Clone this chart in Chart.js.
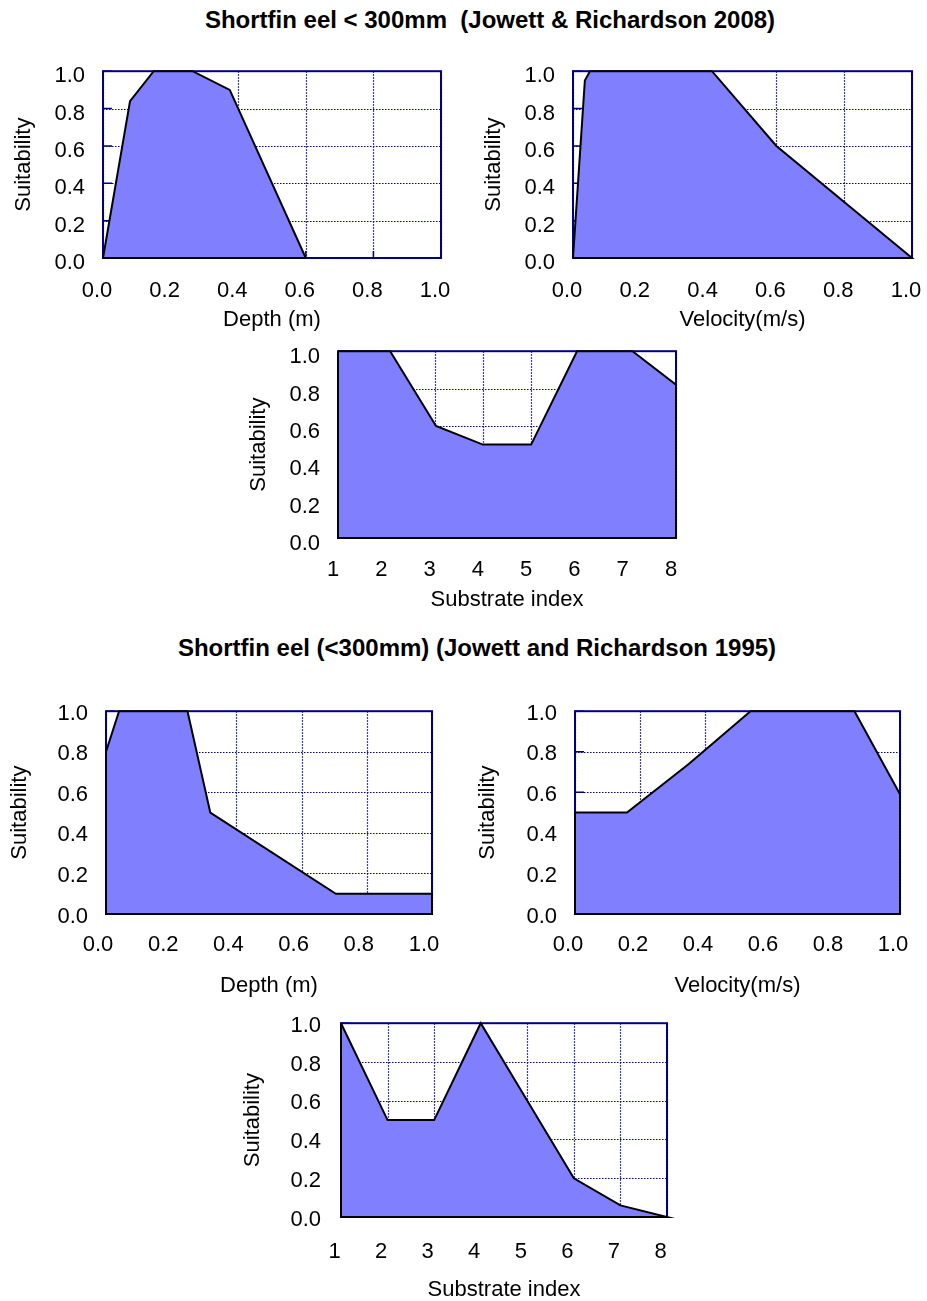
<!DOCTYPE html>
<html>
<head>
<meta charset="utf-8">
<script src="https://cdn.jsdelivr.net/npm/chart.js@4.4.1/dist/chart.umd.min.js"></script>
<style>
  html, body { margin: 0; padding: 0; background: #fff; width: 927px; height: 1301px; overflow: hidden; position: relative; }
  .panel { position: absolute; }
  .title { position: absolute; font: bold 24px "Liberation Sans", Arial, sans-serif; line-height: 24px;
           white-space: pre; text-align: center; color: #000; }
</style>
</head>
<body>
<div class="title" style="left:0; top:8px; width:980px;">Shortfin eel &lt; 300mm  (Jowett &amp; Richardson 2008)</div>
<div class="title" style="left:0; top:636px; width:954px;">Shortfin eel (&lt;300mm) (Jowett and Richardson 1995)</div>

<canvas id="p1" class="panel"></canvas>
<canvas id="p2" class="panel"></canvas>
<canvas id="p3" class="panel"></canvas>
<canvas id="p4" class="panel"></canvas>
<canvas id="p5" class="panel"></canvas>
<canvas id="p6" class="panel"></canvas>

<script>
// Tick labels
const suitabilityTicks = ['0.0', '0.2', '0.4', '0.6', '0.8', '1.0'];
const unitTicks = ['0.0', '0.2', '0.4', '0.6', '0.8', '1.0'];
const substrateTicks = ['1', '2', '3', '4', '5', '6', '7', '8'];

// Habitat suitability curves, Jowett & Richardson 2008
const depth2008X = [0, 0.08, 0.15, 0.265, 0.375, 0.6];
const depth2008Y = [0, 0.84, 1, 1, 0.9, 0];
const velocity2008X = [0, 0.035, 0.05, 0.41, 0.6, 1.0];
const velocity2008Y = [0, 0.95, 1, 1, 0.6, 0];
const substrate2008X = [1, 2.08, 3.03, 4, 5, 5.95, 7.1, 8];
const substrate2008Y = [1, 1, 0.6, 0.5, 0.5, 1, 1, 0.82];

// Habitat suitability curves, Jowett & Richardson 1995
const depth1995X = [0, 0.04, 0.25, 0.32, 0.705, 1.0];
const depth1995Y = [0.8, 1, 1, 0.5, 0.1, 0.1];
const velocity1995X = [0, 0.16, 0.35, 0.54, 0.86, 1.0];
const velocity1995Y = [0.5, 0.5, 0.74, 1, 1, 0.59];
const substrate1995X = [1, 2, 3, 4, 5, 6, 7, 8];
const substrate1995Y = [1, 0.5, 0.5, 1, 0.6, 0.2, 0.06, 0];

const NAVY = '#000080';
const FILL = '#8080FF';
const FONT_FAMILY = '"Liberation Sans", Arial, sans-serif';
const TICK_FONT = { family: FONT_FAMILY, size: 22 };
const TITLE_FONT = { family: FONT_FAMILY, size: 22 };
const HALF_LINE = 22 * 1.2 / 2;

// Dotted grid, plot frame and short inward tick marks, all drawn under the filled area
const framePlugin = {
  id: 'frame',
  beforeDatasetsDraw(chart) {
    const { ctx, chartArea: a, scales: { x, y } } = chart;
    ctx.save();
    ctx.strokeStyle = NAVY;
    ctx.lineWidth = 1.2;
    ctx.setLineDash([1.5, 1.5]);
    ctx.beginPath();
    y.ticks.forEach(t => {
      const py = Math.round(y.getPixelForValue(t.value)) + 0.5;
      ctx.moveTo(a.left, py); ctx.lineTo(a.right, py);
    });
    x.ticks.forEach(t => {
      const px = Math.round(x.getPixelForValue(t.value)) + 0.5;
      ctx.moveTo(px, a.top); ctx.lineTo(px, a.bottom);
    });
    ctx.stroke();
    ctx.setLineDash([]);
    ctx.lineWidth = 2;
    ctx.strokeRect(a.left, a.top, a.right - a.left, a.bottom - a.top);
    ctx.lineWidth = 1.5;
    ctx.beginPath();
    y.ticks.forEach(t => {
      const py = y.getPixelForValue(t.value);
      ctx.moveTo(a.left, py); ctx.lineTo(a.left + 9, py);
    });
    x.ticks.forEach(t => {
      const px = x.getPixelForValue(t.value);
      ctx.moveTo(px, a.bottom); ctx.lineTo(px, a.bottom - 7);
    });
    ctx.stroke();
    ctx.restore();
  }
};

const panels = [
  { id: 'p1', box: [0, 40, 500, 300], area: [103, 66, 441, 258], xs: depth2008X, ys: depth2008Y,
    xTitle: 'Depth (m)', range: [0, 1, 0.2], xLabels: unitTicks, xOff: -6, yOff: 5, xPad: 20, yPad: 18, yTitleX: 24, xTitleY: 320 },
  { id: 'p2', box: [470, 40, 500, 300], area: [573, 66, 912, 258], xs: velocity2008X, ys: velocity2008Y,
    xTitle: 'Velocity(m/s)', range: [0, 1, 0.2], xLabels: unitTicks, xOff: -6, yOff: 5, xPad: 20, yPad: 18, yTitleX: 494, xTitleY: 320 },
  { id: 'p3', box: [230, 320, 500, 300], area: [338, 342, 676, 538], xs: substrate2008X, ys: substrate2008Y,
    xTitle: 'Substrate index', range: [1, 8, 1], xLabels: substrateTicks, xOff: -5, yOff: 6, xPad: 19, yPad: 18, yTitleX: 259, xTitleY: 600 },
  { id: 'p4', box: [0, 680, 490, 326], area: [106, 710, 432, 914], xs: depth1995X, ys: depth1995Y,
    xTitle: 'Depth (m)', range: [0, 1, 0.2], xLabels: unitTicks, xOff: -8, yOff: 2.5, xPad: 18, yPad: 18, yTitleX: 20, xTitleY: 986 },
  { id: 'p5', box: [470, 680, 490, 326], area: [575, 710, 900, 914], xs: velocity1995X, ys: velocity1995Y,
    xTitle: 'Velocity(m/s)', range: [0, 1, 0.2], xLabels: unitTicks, xOff: -7, yOff: 2.5, xPad: 18, yPad: 18, yTitleX: 488, xTitleY: 986 },
  { id: 'p6', box: [230, 990, 500, 320], area: [341, 1013, 667, 1217], xs: substrate1995X, ys: substrate1995Y,
    xTitle: 'Substrate index', range: [1, 8, 1], xLabels: substrateTicks, xOff: -6.5, yOff: 2.5, xPad: 22, yPad: 20, yTitleX: 253, xTitleY: 1290 }
];

panels.forEach(p => {
  const [bl, bt, bw, bh] = p.box;
  const [al, at, ar, ab] = p.area;
  const canvas = document.getElementById(p.id);
  canvas.width = bw; canvas.height = bh;
  canvas.style.left = bl + 'px'; canvas.style.top = bt + 'px';

  const curve = p.xs.map((x, i) => ({ x, y: p.ys[i] }));
  const n = p.xs.length - 1;
  // closed outline of the filled area: curve, then back along the baseline
  const outline = curve.concat([{ x: p.xs[n], y: 0 }, { x: p.xs[0], y: 0 }, curve[0]]);

  new Chart(canvas, {
    type: 'scatter',
    data: {
      datasets: [
        { data: outline, showLine: true, fill: false, borderColor: '#000', borderWidth: 2,
          borderJoinStyle: 'miter', pointRadius: 0, tension: 0, order: 1, clip: false },
        { data: curve, showLine: true, fill: 'origin', backgroundColor: FILL,
          borderColor: 'rgba(0,0,0,0)', borderWidth: 1, pointRadius: 0, tension: 0, order: 2 }
      ]
    },
    options: {
      responsive: false,
      animation: false,
      events: [],
      layout: { padding: { left: 0, top: at - bt, right: bl + bw - ar, bottom: 0 } },
      plugins: { legend: { display: false }, tooltip: { enabled: false } },
      scales: {
        x: {
          type: 'linear', min: p.range[0], max: p.range[1],
          ticks: { stepSize: p.range[2], autoSkip: false, maxRotation: 0, font: TICK_FONT, color: '#000',
                   padding: p.xPad, labelOffset: p.xOff, callback: (v, i) => p.xLabels[i] },
          grid: { display: false, drawTicks: false },
          border: { display: false },
          title: { display: true, text: p.xTitle, font: TITLE_FONT, color: '#000',
                   padding: { top: 0, bottom: (bt + bh) - p.xTitleY - HALF_LINE } },
          afterFit: s => { s.height = bt + bh - ab; }
        },
        y: {
          type: 'linear', min: 0, max: 1,
          ticks: { stepSize: 0.2, font: TICK_FONT, color: '#000', padding: p.yPad, labelOffset: p.yOff,
                   callback: (v, i) => suitabilityTicks[i] },
          grid: { display: false, drawTicks: false },
          border: { display: false },
          title: { display: true, text: 'Suitability', font: TITLE_FONT, color: '#000',
                   padding: { top: p.yTitleX - bl - HALF_LINE, bottom: 0 } },
          afterFit: s => { s.width = al - bl; }
        }
      }
    },
    plugins: [framePlugin]
  });
});
</script>
</body>
</html>
